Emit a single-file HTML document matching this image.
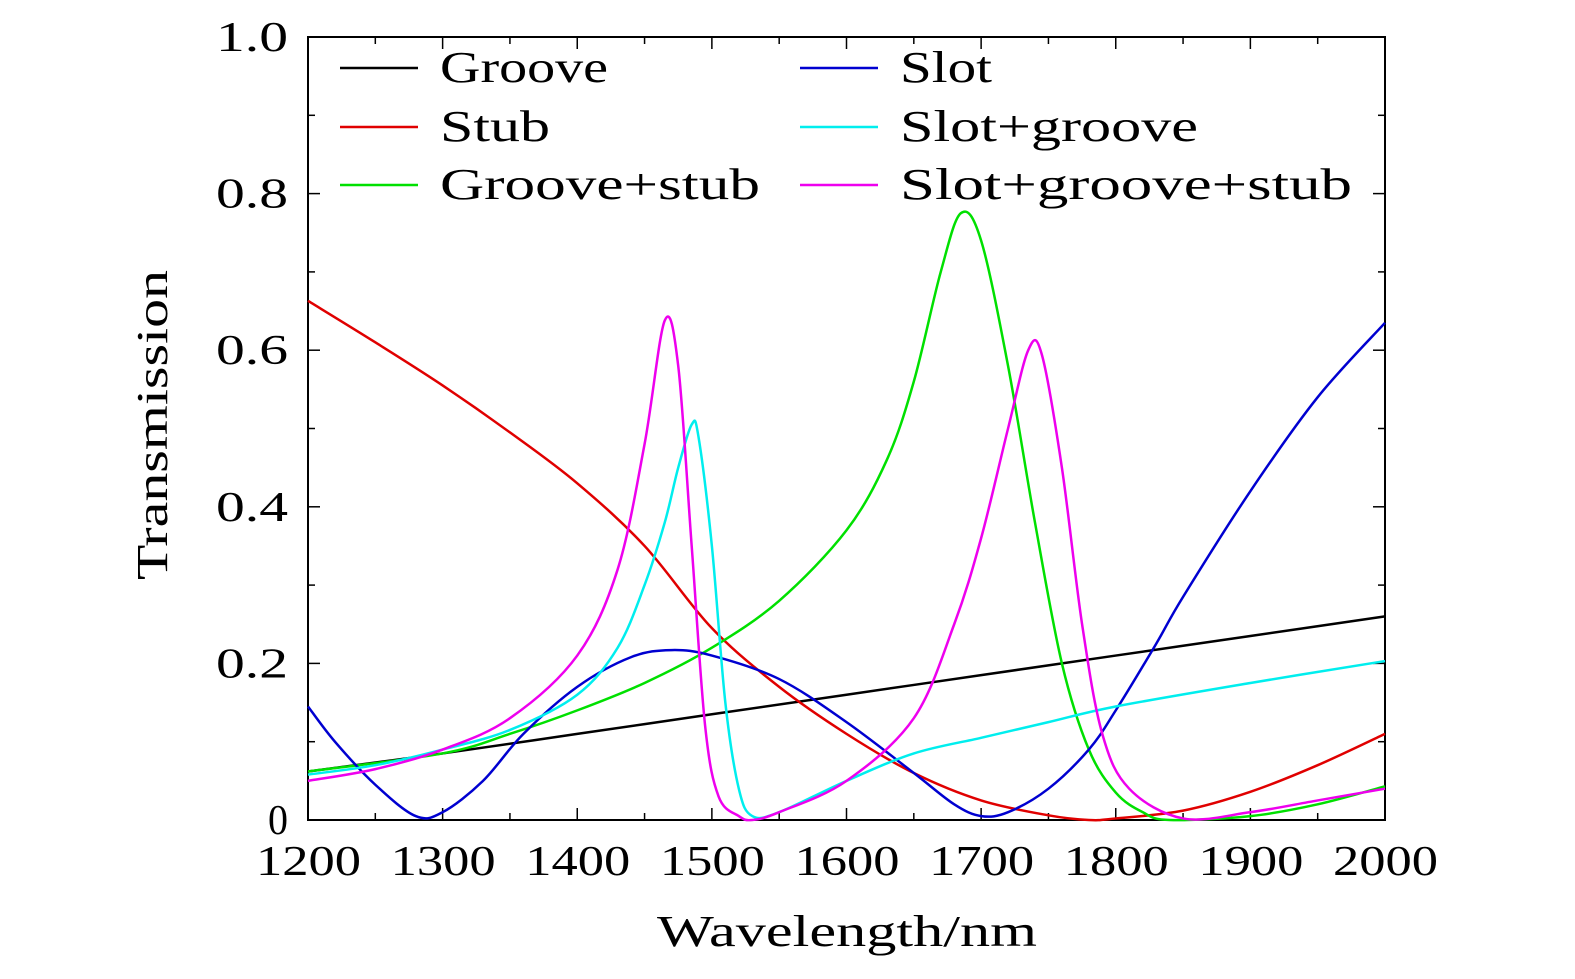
<!DOCTYPE html>
<html><head><meta charset="utf-8"><style>
body{margin:0;background:#fff}
svg text{font-family:"Liberation Serif",serif;fill:#000}
</style></head><body>
<svg id="chart" width="1575" height="974" viewBox="0 0 1575 974" xmlns="http://www.w3.org/2000/svg">
<g id="axes"></g><g id="plot"></g><g id="legend"></g>
</svg>
<script>
const xTicks=[1200,1300,1400,1500,1600,1700,1800,1900,2000];
const yTicks=[0,0.2,0.4,0.6,0.8,1.0];
const yTickLabels=["0","0.2","0.4","0.6","0.8","1.0"];
const grooveX=[1200,1300,1400,1500,1600,1700,1800,1900,2000];
const grooveY=[0.062,0.085,0.11,0.135,0.16,0.185,0.21,0.235,0.26];
const stubX=[1200,1250,1300,1350,1400,1450,1500,1550,1600,1650,1700,1750,1780,1800,1850,1900,1950,2000];
const stubY=[0.663,0.61,0.555,0.495,0.43,0.35,0.245,0.17,0.11,0.06,0.025,0.006,0,0.002,0.012,0.036,0.07,0.11];
const slotX=[1200,1220,1250,1280,1300,1330,1360,1400,1440,1470,1500,1550,1600,1650,1680,1700,1720,1750,1780,1800,1830,1850,1900,1950,2000];
const slotY=[0.145,0.1,0.045,0.005,0.01,0.05,0.11,0.17,0.208,0.217,0.21,0.18,0.125,0.06,0.02,0.005,0.01,0.04,0.09,0.14,0.225,0.285,0.42,0.54,0.635];
const sgX=[1200,1250,1300,1350,1400,1430,1450,1465,1475,1485,1490,1500,1510,1520,1530,1550,1600,1650,1700,1750,1800,1900,2000];
const sgY=[0.058,0.07,0.09,0.115,0.16,0.22,0.3,0.38,0.45,0.505,0.49,0.35,0.15,0.04,0.005,0.01,0.05,0.085,0.105,0.125,0.145,0.175,0.203];
const gsX=[1200,1300,1350,1400,1450,1500,1550,1600,1630,1650,1670,1685,1700,1720,1740,1760,1780,1800,1820,1840,1900,1950,2000];
const gsY=[0.062,0.085,0.11,0.14,0.175,0.22,0.28,0.37,0.46,0.56,0.7,0.775,0.74,0.58,0.38,0.2,0.09,0.035,0.01,0,0.005,0.02,0.043];
const sgsX=[1200,1250,1300,1350,1400,1430,1450,1465,1475,1485,1495,1505,1520,1530,1550,1600,1650,1680,1700,1720,1735,1745,1760,1775,1790,1810,1850,1900,1950,2000];
const sgsY=[0.05,0.065,0.09,0.13,0.21,0.32,0.48,0.638,0.58,0.35,0.12,0.03,0.005,0,0.01,0.05,0.13,0.25,0.36,0.5,0.6,0.595,0.45,0.25,0.11,0.04,0.002,0.01,0.025,0.04];

const L=308,R=1385,T=37,B=820;
const sx=v=>L+(v-1200)/800*(R-L);
const sy=v=>B-v*(B-T);
const NS="http://www.w3.org/2000/svg";
function mk(tag,attrs,parent){const e=document.createElementNS(NS,tag);for(const k in attrs)e.setAttribute(k,attrs[k]);parent.appendChild(e);return e;}
const axes=document.getElementById('axes'),plot=document.getElementById('plot'),legend=document.getElementById('legend');
const frame=mk('rect',{x:L,y:T,width:R-L,height:B-T,fill:'none',stroke:'#000','stroke-width':2},axes);


for(let v=1200;v<=2000;v+=50){const major=v%100===0;const len=major?12:7;const x=sx(v);
 mk('line',{x1:x,y1:B,x2:x,y2:B-len,stroke:'#000','stroke-width':1.5},axes);
 mk('line',{x1:x,y1:T,x2:x,y2:T+len,stroke:'#000','stroke-width':1.5},axes);}
xTicks.forEach(v=>{const t=mk('text',{x:sx(v)-52,y:B+55,'font-size':42,textLength:105,lengthAdjust:'spacingAndGlyphs'},axes);t.textContent=v;
 
 });
for(let i=0;i<=10;i++){const v=i/10;const major=i%2===0;const len=major?12:7;const y=sy(v);
 mk('line',{x1:L,y1:y,x2:L+len,y2:y,stroke:'#000','stroke-width':1.5},axes);
 mk('line',{x1:R,y1:y,x2:R-len,y2:y,stroke:'#000','stroke-width':1.5},axes);}
yTicks.forEach((v,i)=>{const lab=yTickLabels[i];const w=lab.length===1?20:72;
 const t=mk('text',{x:L-20-w,y:sy(v)+14,'font-size':42,textLength:w,lengthAdjust:'spacingAndGlyphs'},axes);t.textContent=lab;
 
 });
const xt=mk('text',{x:657,y:946,'font-size':44,textLength:380,lengthAdjust:'spacingAndGlyphs'},axes);xt.textContent='Wavelength/nm';


const yt=mk('text',{x:-155,y:0,'font-size':44,textLength:310,lengthAdjust:'spacingAndGlyphs',transform:`translate(167,425) rotate(-90)`},axes);yt.textContent='Transmission';



function path(xs,ys){const p=xs.map((x,i)=>[sx(x),sy(ys[i])]);let d=`M${p[0][0]},${p[0][1]}`;
 for(let i=0;i<p.length-1;i++){const p0=p[Math.max(0,i-1)],p1=p[i],p2=p[i+1],p3=p[Math.min(p.length-1,i+2)];
  const c1x=p1[0]+(p2[0]-p0[0])/6,c1y=p1[1]+(p2[1]-p0[1])/6,c2x=p2[0]-(p3[0]-p1[0])/6,c2y=p2[1]-(p3[1]-p1[1])/6;
  d+=` C${c1x},${c1y} ${c2x},${c2y} ${p2[0]},${p2[1]}`;}
 return d;}
const series=[
 ['groove',grooveX,grooveY,'#000','Groove',340,68,168],
 ['stub',stubX,stubY,'#e00000','Stub',340,127,110],
 ['groove-stub',gsX,gsY,'#00e000','Groove+stub',340,185,320],
 ['slot',slotX,slotY,'#0000d0','Slot',800,68,92],
 ['slot-groove',sgX,sgY,'#00eeee','Slot+groove',800,127,298],
 ['slot-groove-stub',sgsX,sgsY,'#ee00ee','Slot+groove+stub',800,185,452]];
series.forEach(s=>{
 const p=mk('path',{d:path(s[1],s[2]),fill:'none',stroke:s[3],'stroke-width':2.5},plot);
 
 
 const g=mk('g',{},legend);
 
 
 mk('line',{x1:s[5],y1:s[6],x2:s[5]+78,y2:s[6],stroke:s[3],'stroke-width':2.5},g);
 const t=mk('text',{x:s[5]+100,y:s[6]+14,'font-size':44,textLength:s[7],lengthAdjust:'spacingAndGlyphs'},g);t.textContent=s[4];
});
</script>
</body></html>
